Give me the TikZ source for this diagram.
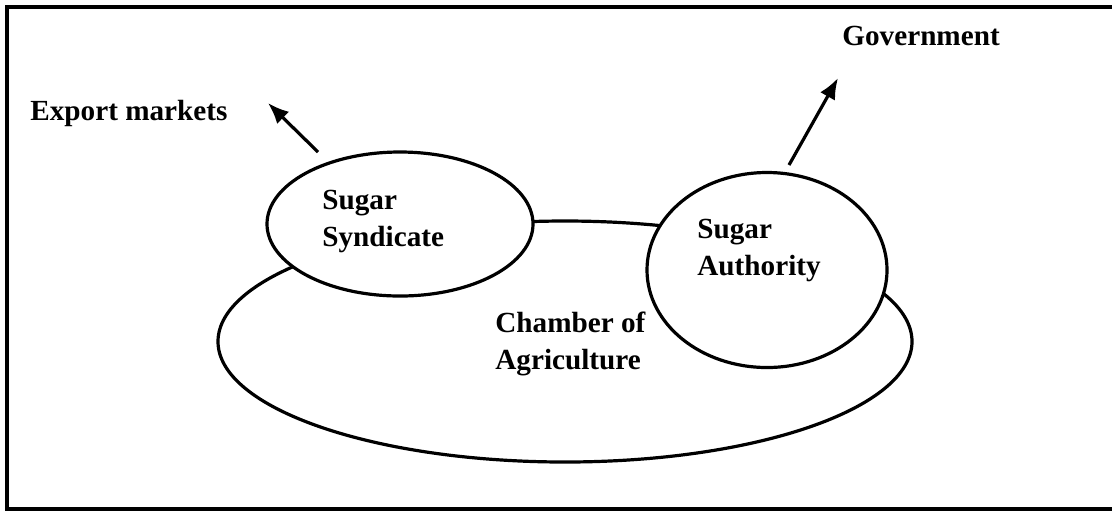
\documentclass[tikz,border=0pt]{standalone}
\usepackage{fontspec}
\setmainfont{Liberation Serif}
\usetikzlibrary{arrows.meta,shapes.geometric}

\begin{document}
\begin{tikzpicture}[x=0.5pt, y=-0.5pt, >={Latex[length=10.5pt,width=8.5pt]},
  every node/.style={font=\fontsize{14.6}{18.5}\selectfont\bfseries, inner sep=0pt, align=left},
  blob/.style={draw, ellipse, fill=white, line width=1.6pt}]
  \useasboundingbox (0,0) rectangle (1112,511);
  % frame, open on the right
  \draw[line width=1.6pt] (1112,7) -- (7,7) -- (7,509) -- (1112,509);
  \node[blob, minimum width=347pt, minimum height=120.5pt] (chamber) at (565,341.5) {};
  \node[blob, minimum width=133pt, minimum height=72pt] (synd) at (400,224) {};
  \node[blob, minimum width=120pt, minimum height=97.5pt] (auth) at (767,270) {};
  \node[anchor=north west] (syndtext) at (322,190) {Sugar\\Syndicate};
  \node[anchor=north west] (authtext) at (697,219) {Sugar\\Authority};
  \node[anchor=north west] (chambtext) at (495,312) {Chamber of\\Agriculture};
  \node[anchor=base west] (export) at (30,120) {Export markets};
  \node[anchor=base west] (govt) at (842,45) {Government};
  % arrow ends
  \coordinate (exptail) at (318,152);
  \coordinate (exptip) at (268,103);
  \coordinate (govtail) at (789,165);
  \coordinate (govtip) at (838,78);
  \draw[->, line width=1.6pt] (exptail) -- (exptip);
  \draw[->, line width=1.6pt] (govtail) -- (govtip);
\end{tikzpicture}
\end{document}
